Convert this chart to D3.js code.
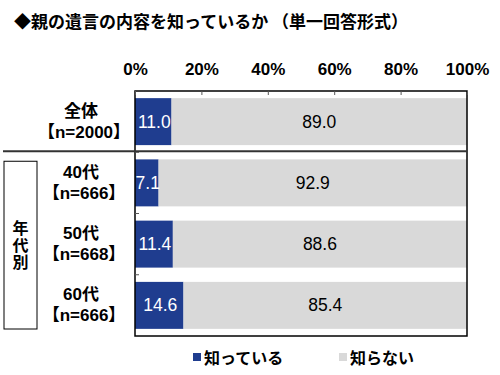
<!DOCTYPE html>
<html><head><meta charset="utf-8">
<script src="https://cdn.jsdelivr.net/npm/d3@7"></script>
<style>
body{margin:0;background:#fff;}
svg{display:block;}
</style></head>
<body>
<svg id="c" width="500" height="375"></svg>
<script>
const title = "◆親の遺言の内容を知っているか （単一回答形式）";
const categories = ["全体", "40代", "50代", "60代"];
const sampleLabels = ["【n=2000】", "【n=666】", "【n=668】", "【n=666】"];
const knowValues = [11.0, 7.1, 11.4, 14.6];
const notKnowValues = [89.0, 92.9, 88.6, 85.4];
const seriesNames = ["知っている", "知らない"];
const tickValues = [0, 20, 40, 60, 80, 100];
const groupLabel = "年代別";

const colors = ["#1f3d8f", "#d9d9d9"];
const jp = "'Noto Sans CJK JP', 'Liberation Sans', sans-serif";
const num = "'Liberation Sans', Arial, sans-serif";
const mixed = "'Liberation Sans', 'Noto Sans CJK JP', sans-serif";

const svg = d3.select("#c");
const L = 135, R = 467, T = 91, B = 336;
const x = d3.scaleLinear().domain([0, 100]).range([L, R]);
const y = d3.scaleBand().domain(categories).range([T, B]).paddingInner(0.233).paddingOuter(0.1165);

// title
svg.append("text").attr("x", 14).attr("y", 20).attr("dominant-baseline", "central")
  .attr("font-family", jp).attr("font-weight", "bold").attr("font-size", 17)
  .attr("fill", "#000").text(title);

// bars
const rows = categories.map((c, i) => ({c, a: knowValues[i], b: notKnowValues[i]}));
const g = svg.append("g");
g.selectAll("rect.a").data(rows).join("rect")
  .attr("x", x(0)).attr("y", d => y(d.c)).attr("width", d => x(d.a) - x(0))
  .attr("height", y.bandwidth()).attr("fill", colors[0]);
g.selectAll("rect.b").data(rows).join("rect")
  .attr("x", d => x(d.a)).attr("y", d => y(d.c)).attr("width", d => x(d.a + d.b) - x(d.a))
  .attr("height", y.bandwidth()).attr("fill", colors[1]);

// value labels
g.selectAll("text.a").data(rows).join("text")
  .attr("x", d => (x(0) + x(d.a)) / 2 + 1).attr("y", d => y(d.c) + y.bandwidth() / 2)
  .attr("dominant-baseline", "central").attr("text-anchor", "middle")
  .attr("font-family", num).attr("font-size", 17.5).attr("fill", "#fff")
  .text(d => d.a.toFixed(1));
g.selectAll("text.b").data(rows).join("text")
  .attr("x", d => (x(d.a) + x(d.a + d.b)) / 2).attr("y", d => y(d.c) + y.bandwidth() / 2)
  .attr("dominant-baseline", "central").attr("text-anchor", "middle")
  .attr("font-family", num).attr("font-size", 17.5).attr("fill", "#000")
  .text(d => d.b.toFixed(1));

// frame
svg.append("rect").attr("x", L).attr("y", T).attr("width", R - L).attr("height", B - T)
  .attr("fill", "none").attr("stroke", "#000").attr("stroke-width", 1.5);

// top axis
const xAxis = d3.axisTop(x).tickValues(tickValues).tickFormat(d => d + "%").tickSizeInner(-4).tickSizeOuter(0).tickPadding(16);
const ax = svg.append("g").attr("transform", `translate(0,${T})`).call(xAxis);
ax.select(".domain").remove();
ax.selectAll("line").attr("stroke", "#555");
ax.selectAll("text").attr("font-family", num).attr("font-weight", "bold").attr("font-size", 17).attr("fill", "#000");

// left ticks at band boundaries
const bounds = categories.slice(1).map(c => y(c) - y.step() * y.paddingInner() / 2);
svg.selectAll("line.lt").data(bounds).join("line")
  .attr("x1", L).attr("x2", L + 4).attr("y1", d => d).attr("y2", d => d)
  .attr("stroke", "#555");

// separator line
svg.append("line").attr("x1", 3).attr("x2", R).attr("y1", bounds[0] - 1).attr("y2", bounds[0] - 1)
  .attr("stroke", "#333").attr("stroke-width", 2);

// category labels
const cl = svg.append("g");
categories.forEach((c, i) => {
  const cy = y(c) + y.bandwidth() / 2;
  cl.append("text").attr("x", 81).attr("y", cy - 10.5).attr("dominant-baseline", "central")
    .attr("text-anchor", "middle").attr("font-family", mixed).attr("font-weight", "bold")
    .attr("font-size", 17).attr("fill", "#000").text(c);
  cl.append("text").attr("x", 84).attr("y", cy + 10.5).attr("dominant-baseline", "central")
    .attr("text-anchor", "middle").attr("font-family", mixed).attr("font-weight", "bold")
    .attr("font-size", 17).attr("fill", "#000").text(sampleLabels[i]);
});

// group box
const gTop = bounds[0] + 9, gBot = B - 7;
svg.append("rect").attr("x", 4).attr("y", gTop).attr("width", 33).attr("height", gBot - gTop)
  .attr("fill", "none").attr("stroke", "#000").attr("stroke-width", 1);
const gMid = (gTop + gBot) / 2;
svg.append("text").attr("x", 20.5).attr("y", gMid)
  .attr("text-anchor", "middle").attr("dominant-baseline", "central")
  .style("writing-mode", "vertical-rl").attr("letter-spacing", 1)
  .attr("font-family", jp).attr("font-weight", "bold").attr("font-size", 16)
  .attr("fill", "#000").text(groupLabel);

// legend
const legX = [193, 339];
seriesNames.forEach((s, i) => {
  svg.append("rect").attr("x", legX[i]).attr("y", 353).attr("width", 8).attr("height", 8).attr("fill", colors[i]);
  svg.append("text").attr("x", legX[i] + 11).attr("y", 357).attr("dominant-baseline", "central")
    .attr("font-family", jp).attr("font-weight", "bold").attr("font-size", 16)
    .attr("fill", "#000").text(s);
});
</script>
</body></html>
